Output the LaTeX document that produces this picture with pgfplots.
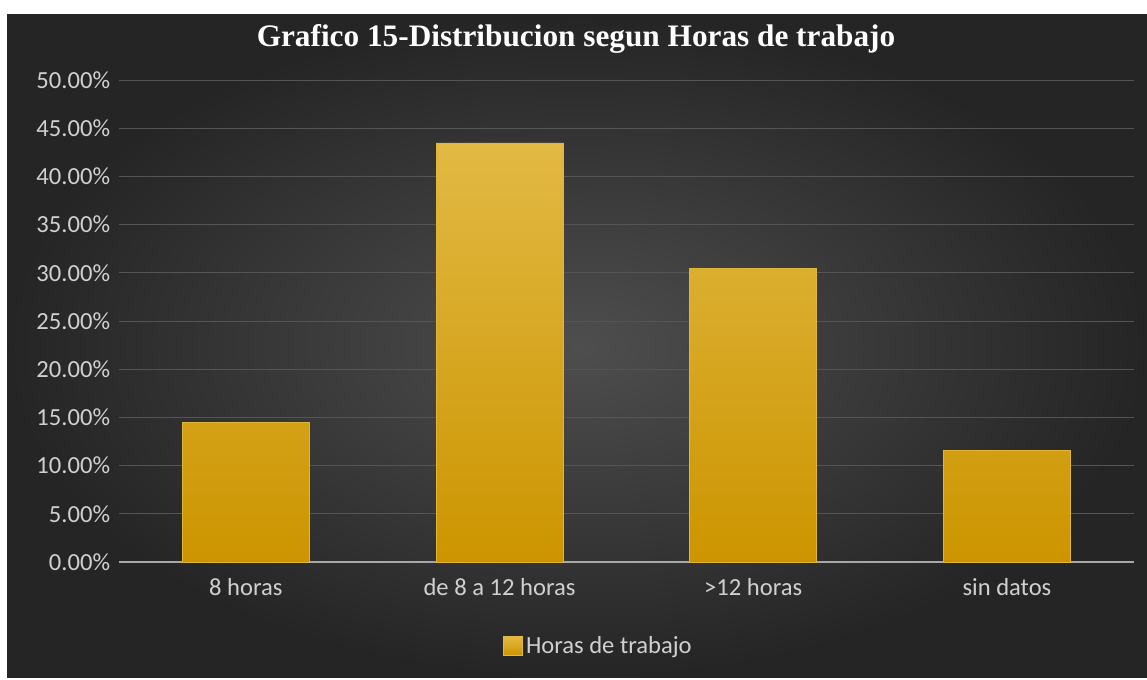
\documentclass[border=0pt]{standalone}
\usepackage{pgfplots}
\pgfplotsset{compat=1.18}
\usepackage{fontspec}
\setmainfont{Carlito}
\newfontfamily\titlefont{Liberation Serif}
\definecolor{bgout}{HTML}{252525}
\definecolor{bgin}{HTML}{4E4E4E}
\definecolor{bartop}{HTML}{E2B944}
\definecolor{barmid}{HTML}{DCA300}
\definecolor{barbot}{HTML}{CC9500}
\definecolor{labgray}{HTML}{D0D0D0}
\definecolor{gridgray}{HTML}{555555}
\definecolor{axgray}{HTML}{A8A8A8}

\pgfplotstableread{
x val
0 14.49
1 43.48
2 30.43
3 11.59
}\horas

\begin{document}
\begin{tikzpicture}[x=0.02cm,y=0.02cm]
% page and dark background (1 unit = 1 px of the reference)
\fill[white] (0,0) rectangle (1147,680);
\shade[inner color=bgin, outer color=bgout] (7,2) rectangle (1147,665);
\node[font=\titlefont\bfseries\fontsize{17.8}{19}\selectfont, text=white] at (576,641) {Grafico 15-Distribucion segun Horas de trabajo};
\coordinate (O) at (119,118);
\begin{axis}[
at={(O)}, anchor=south west,
scale only axis,
width=20.3cm, height=9.64cm,
ybar, bar width=2.54cm,
xmin=-0.5, xmax=3.5,
ymin=0, ymax=50,
xtick=data,
xticklabels={8 horas, de 8 a 12 horas, >12 horas, sin datos},
ytick={0,5,...,50},
yticklabel={\pgfmathprintnumber[fixed,fixed zerofill,precision=2]{\tick}\%},
/pgf/number format/assume math mode=true,
ticklabel style={font=\fontsize{14}{16}\selectfont, text=labgray},
yticklabel style={xshift=-1.5pt},
xticklabel style={yshift=-6pt},
major tick length=0pt,
axis lines*=left,
y axis line style={draw=none},
x axis line style={draw=axgray, line width=1.2pt},
ymajorgrids,
major grid style={draw=gridgray, line width=0.6pt},
legend style={at={(0.473,-0.174)}, anchor=center, draw=none, fill=none,
  font=\fontsize{14}{16}\selectfont, text=labgray},
legend image code/.code={\fill[barmid, draw=bartop] (0cm,-0.19cm) rectangle (0.38cm,0.19cm);},
]
\addplot[draw=bartop!80!barmid, line width=0.4pt, top color=bartop, middle color=barmid, bottom color=barbot] table[x=x,y=val] {\horas};
\addlegendentry{Horas de trabajo}
\end{axis}
\end{tikzpicture}
\end{document}
